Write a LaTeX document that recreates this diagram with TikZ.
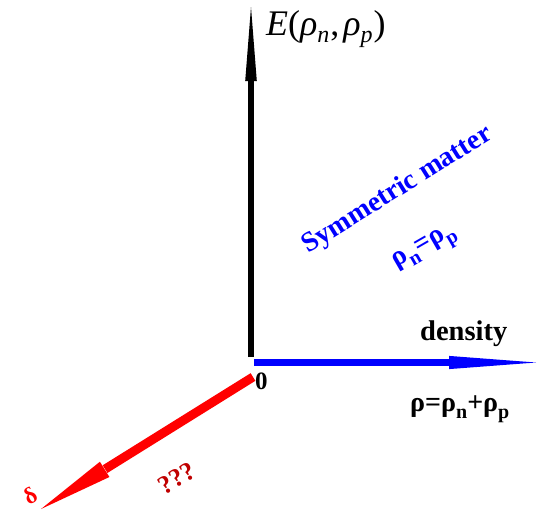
\documentclass[tikz,border=0pt]{standalone}
\usepackage{fontspec}
\setmainfont{Liberation Serif}
\usetikzlibrary{calc}
\definecolor{qred}{RGB}{192,0,0}
\tikzset{
  lab/.style={inner sep=0pt,font=\bfseries\fontsize{27}{30}\selectfont},
}
\begin{document}
\begin{tikzpicture}[x=1pt,y=-1pt]
\useasboundingbox (0,0) rectangle (538,512);
% black axis
\coordinate (Ebot) at (251,357);
\coordinate (Etip) at (251,7);
\coordinate (Ebase) at (251,81);
\draw[line width=6pt] (Ebot) -- (Ebase);
\fill[black] ($(Ebase)+(-5.8,0)$) -- (Etip) -- ($(Ebase)+(5.8,0)$) -- cycle;
% blue axis
\coordinate (Dbot) at (254,362.5);
\coordinate (Dtip) at (536,362.5);
\coordinate (Dbase) at (449,362.5);
\draw[blue,line width=6.5pt] (Dbot) -- (Dbase);
\fill[blue] ($(Dbase)+(0,-6.6)$) -- (Dtip) -- ($(Dbase)+(0,6.6)$) -- cycle;
% red axis
\coordinate (Rbot) at (253,377);
\coordinate (Rtip) at (41,509);
\coordinate (Rbase) at ($(Rtip)!75pt!(Rbot)$);
\draw[red,line width=9pt] (Rbot) -- ($(Rbase)!-0.5pt!(Rtip)$);
\fill[red] ($(Rbase)!9pt!90:(Rtip)$) -- (Rtip) -- ($(Rbase)!9pt!-90:(Rtip)$) -- cycle;
% labels
\node[inner sep=0pt,anchor=base west,font=\fontsize{36}{40}\selectfont] (elab) at (266,35)
  {\textit{E}(\textit{ρ}\raisebox{-0.22em}{\fontsize{24}{24}\selectfont\textit{n}}\kern1pt,\kern4pt\textit{ρ}\raisebox{-0.22em}{\fontsize{24}{24}\selectfont\textit{p}}\kern1pt)};
\node[lab,anchor=base west,font=\bfseries\fontsize{28.5}{30}\selectfont] (dens) at (420,340) {density};
\node[lab,anchor=base west,font=\bfseries\fontsize{25}{30}\selectfont] (zero) at (255,389) {0};
\node[lab,anchor=base west,font=\bfseries\fontsize{28}{30}\selectfont] (rho) at (410,411)
  {ρ=ρ\raisebox{-0.25em}{\fontsize{20}{20}\selectfont n}+ρ\raisebox{-0.25em}{\fontsize{20}{20}\selectfont p}};
\node[lab,text=blue,rotate=32,anchor=base,font=\bfseries\fontsize{28}{30}\selectfont] (sym) at (401,196) {Symmetric matter};
\node[lab,text=blue,rotate=30,font=\bfseries\fontsize{28}{30}\selectfont] (eq) at (426,250)
  {ρ\raisebox{-0.25em}{\fontsize{20}{20}\selectfont n}=ρ\raisebox{-0.25em}{\fontsize{20}{20}\selectfont p}};
\node[lab,text=qred,rotate=30,font=\bfseries\fontsize{26}{28}\selectfont] (qq) at (177,478) {???};
\node[lab,text=red,rotate=30,font=\bfseries\fontsize{23}{26}\selectfont] (delta) at (30,496) {δ};
\end{tikzpicture}
\end{document}
